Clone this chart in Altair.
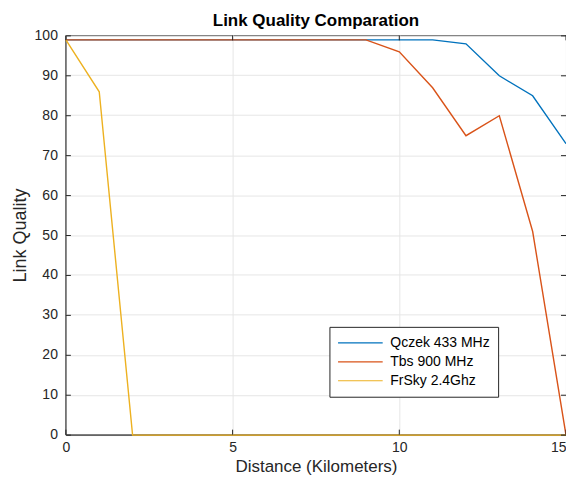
import altair as alt
import pandas as pd

distance = list(range(16))
qczek = [99, 99, 99, 99, 99, 99, 99, 99, 99, 99, 99, 99, 98, 90, 85, 73]
tbs = [99, 99, 99, 99, 99, 99, 99, 99, 99, 99, 96, 87, 75, 80, 51, 0]
frsky = [99, 86, 0, 0, 0, 0, 0, 0, 0, 0, 0, 0, 0, 0, 0, 0]
series_names = ["Qczek 433 MHz", "Tbs 900 MHz", "FrSky 2.4Ghz"]
series_colors = ["#0072BD", "#D95319", "#EDB120"]
x_ticks = [0, 5, 10, 15]
y_ticks = [0, 10, 20, 30, 40, 50, 60, 70, 80, 90, 100]

rows = []
for i, (name, vals) in enumerate(zip(series_names, [qczek, tbs, frsky])):
    for d, v in zip(distance, vals):
        rows.append({"Distance": d, "Quality": v, "Series": name, "order": i})
df = pd.DataFrame(rows)

W, H = 501, 400
FONT = "Liberation Sans"

xscale = alt.Scale(domain=[0, 15], nice=False)
# half-pixel offset so horizontal lines land on pixel centres (crisp overlap)
yscale = alt.Scale(domain=[0, 100], nice=False, range=[H + 0.5, 0.5])
xaxis = alt.Axis(values=x_ticks, title="Distance (Kilometers)", ticks=False,
                 labelPadding=6, titlePadding=4, format="d", labelOverlap=False,
                 labelFlush=False, titleFontSize=17,
                 labelAlign=alt.expr("datum.value == 15 ? 'right' : 'center'"))
yaxis = alt.Axis(values=y_ticks, title="Link Quality", ticks=False, translate=0,
                 labelPadding=8, titlePadding=5, format="d", labelOverlap=False,
                 titleFontSize=18)

lines = alt.Chart(df).mark_line(strokeWidth=1.4).encode(
    x=alt.X("Distance:Q", scale=xscale, axis=xaxis),
    y=alt.Y("Quality:Q", scale=yscale, axis=yaxis),
    color=alt.Color("Series:N",
                    scale=alt.Scale(domain=series_names, range=series_colors),
                    legend=alt.Legend(title=None, orient="none", legendX=264, legendY=292,
                                      symbolType="stroke", symbolSize=2000,
                                      clipHeight=16, rowPadding=3, labelOffset=7)),
    detail="order:N",
)

xt = pd.DataFrame({"t": x_ticks})
yt = pd.DataFrame({"t": y_ticks})
tick_color = "#262626"

xb = alt.Chart(xt).mark_rule(color=tick_color, strokeWidth=1).encode(
    x=alt.X("t:Q", scale=xscale, axis=xaxis), y=alt.value(H), y2=alt.value(H - 5))
xtop = alt.Chart(xt).mark_rule(color=tick_color, strokeWidth=1).encode(
    x=alt.X("t:Q", scale=xscale, axis=xaxis), y=alt.value(0), y2=alt.value(5))
yl = alt.Chart(yt).mark_rule(color=tick_color, strokeWidth=1).encode(
    y=alt.Y("t:Q", scale=yscale, axis=yaxis), x=alt.value(0), x2=alt.value(5))
yr = alt.Chart(yt).mark_rule(color=tick_color, strokeWidth=1).encode(
    y=alt.Y("t:Q", scale=yscale, axis=yaxis), x=alt.value(W), x2=alt.value(W - 5))

chart = alt.layer(lines, xb, xtop, yl, yr).properties(
    width=W, height=H,
    title=alt.Title("Link Quality Comparation", fontSize=17, fontWeight="bold",
                    font=FONT, color="black", offset=-1),
    autosize=alt.AutoSizeParams(type="none"),
    padding={"left": 58, "top": 27, "right": 0, "bottom": 41},
).configure_view(
    stroke=tick_color, strokeWidth=1
).configure_axis(
    labelFont=FONT, titleFont=FONT, labelFontSize=14,
    labelColor="#262626", titleColor="#262626", titleFontWeight="normal",
    domainColor=tick_color, gridColor="#e6e6e6", gridWidth=1,
).configure_legend(
    labelFont=FONT, labelFontSize=14, labelColor="black",
    strokeColor="#262626", fillColor="white", padding=8,
    symbolStrokeWidth=1.2,
)

chart.save("out.html", embed_options={"renderer": "svg", "actions": False})
